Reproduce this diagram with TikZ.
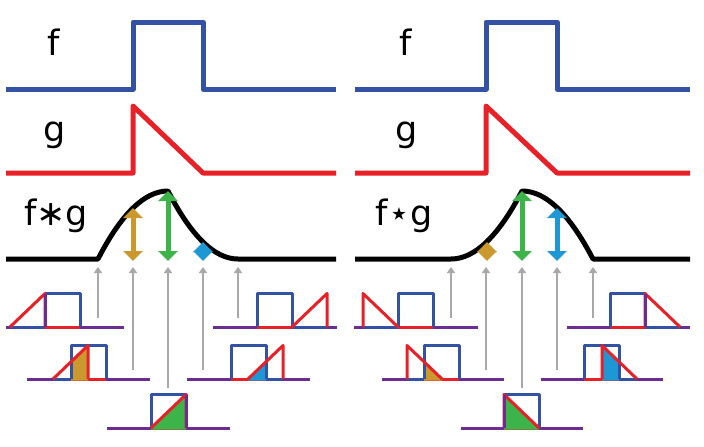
\documentclass[tikz,border=0pt]{standalone}
\usepackage{fontspec}
\setmainfont{DejaVu Sans}
\usetikzlibrary{arrows.meta}
\definecolor{fblue}{RGB}{52,82,164}
\definecolor{gred}{RGB}{232,32,40}
\definecolor{cpurple}{RGB}{108,44,145}
\definecolor{cgold}{RGB}{203,152,46}
\definecolor{cgreen}{RGB}{60,180,74}
\definecolor{ccyan}{RGB}{30,152,212}
\definecolor{cgray}{RGB}{168,168,168}
\tikzset{
  mainline/.style={line width=5pt,line join=round},
  sm/.style={line width=3pt,line join=round},
  grayarrow/.style={line width=2.6pt,cgray,-{Triangle[width=8pt,length=6pt]}},
  valarrow/.style={line width=5pt,{Triangle[width=19pt,length=10pt]}-{Triangle[width=19pt,length=10pt]}},
  lbl/.style={font=\fontsize{35}{40}\selectfont,anchor=base,inner sep=0pt}
}
% #1 baseline y, #2 box left, #3 ramp left, #4 line left, #5 line right, #6 c/r, #7 fill option
\newcommand{\smalldiag}[7]{%
  \pgfmathsetmacro{\bR}{#2+35}%
  \pgfmathsetmacro{\rR}{#3+35}%
  \pgfmathsetmacro{\yT}{#1-33.5}%
  \pgfmathsetmacro{\yB}{#1+1.6}%
  \draw[sm,cpurple] (#4,#1) -- (#5,#1);
  \draw[sm,fblue] (#3,#1) -- (\rR,#1);
  \draw[sm,gred] (#2,#1) -- (\bR,#1);
  \begin{scope}
    \clip (#2,\yB) rectangle (\bR,\yT);
    \ifx c#6
      \path[#7] (#3,\yB) -- (#3,#1) -- (\rR,\yT) -- (\rR,\yB) -- cycle;
    \else
      \path[#7] (#3,\yB) -- (#3,\yT) -- (\rR,#1) -- (\rR,\yB) -- cycle;
    \fi
  \end{scope}
  \draw[sm,fblue] (#2,#1) -- (#2,\yT) -- (\bR,\yT) -- (\bR,#1);
  \ifx c#6
    \draw[sm,gred] (#3,#1) -- (\rR,\yT) -- (\rR,#1);
  \else
    \draw[sm,gred] (#3,#1) -- (#3,\yT) -- (\rR,#1);
  \fi
}
\begin{document}
\begin{tikzpicture}[x=1pt,y=-1pt]
\useasboundingbox[fill=white] (0,0) rectangle (704,447);

% ---------- left panel: convolution ----------
\node[lbl] (lf) at (54,55) {f};
\node[lbl] (lg) at (55,141) {g};
\node[lbl] (lfg) at (56,225) {f∗g};
\draw[mainline,fblue] (6,89) -- (133,89) -- (133,22) -- (203,22) -- (203,89) -- (336,89);
\draw[mainline,gred] (6,173) -- (133,173) -- (133,106) -- (203,173) -- (336,173);
\draw[mainline,black] (6,259) -- (98,259)
   .. controls (121.33,213.67) and (144.67,191) .. (168,191)
   .. controls (191.33,236.33) and (214.67,259) .. (238,259) -- (336,259);

\smalldiag{327}{45}{10}{6}{124}{c}{fill=none}
\smalldiag{379}{71}{53}{27}{150}{c}{fill=cgold}
\smalldiag{428}{151}{151}{107}{230}{c}{fill=cgreen}
\smalldiag{379}{231}{248}{187}{310}{c}{fill=ccyan}
\smalldiag{327}{257}{292}{213}{337}{c}{fill=none}
\draw[sm,cpurple] (45,327) -- (45,293.5);
\draw[sm,cpurple] (186,428) -- (186,394.5);

\coordinate (la1s) at (98,318);  \coordinate (la1e) at (98,267);
\coordinate (la2s) at (133,370); \coordinate (la2e) at (133,267);
\coordinate (la3s) at (168,388); \coordinate (la3e) at (168,267);
\coordinate (la4s) at (203,370); \coordinate (la4e) at (203,267);
\coordinate (la5s) at (238,318); \coordinate (la5e) at (238,267);
\foreach \i in {1,...,5} \draw[grayarrow] (la\i s) -- (la\i e);

\coordinate (lv1t) at (133,208); \coordinate (lv1b) at (133,261);
\coordinate (lv2t) at (168,191); \coordinate (lv2b) at (168,261);
\coordinate (lv3t) at (203,242); \coordinate (lv3b) at (203,261);
\draw[valarrow,cgold] (lv1t) -- (lv1b);
\draw[valarrow,cgreen] (lv2t) -- (lv2b);
\draw[valarrow,ccyan] (lv3t) -- (lv3b);

% ---------- right panel: cross-correlation ----------
\node[lbl] (rf) at (406,55) {f};
\node[lbl] (rg) at (407,141) {g};
\node[lbl] (rfg) at (404,225) {f⋆g};
\draw[mainline,fblue] (355,89) -- (486,89) -- (486,22) -- (557,22) -- (557,89) -- (690,89);
\draw[mainline,gred] (355,173) -- (486,173) -- (486,106) -- (557,173) -- (690,173);
\draw[mainline,black] (355,259) -- (451,259)
   .. controls (474.67,259) and (498.33,236.33) .. (522,191)
   .. controls (545.67,191) and (569.33,213.67) .. (593,259) -- (690,259);

\smalldiag{327}{398}{363}{354}{478}{r}{fill=none}
\smalldiag{379}{424}{407}{382}{504}{r}{fill=cgold}
\smalldiag{428}{504}{504}{461}{583}{r}{fill=cgreen}
\smalldiag{379}{584}{602}{541}{663}{r}{fill=ccyan}
\smalldiag{327}{610}{645}{567}{690}{r}{fill=none}
\draw[sm,cpurple] (504,428) -- (504,394.5);
\draw[sm,cpurple] (645,327) -- (645,293.5);

\coordinate (ra1s) at (451,318); \coordinate (ra1e) at (451,267);
\coordinate (ra2s) at (486,370); \coordinate (ra2e) at (486,267);
\coordinate (ra3s) at (522,388); \coordinate (ra3e) at (522,267);
\coordinate (ra4s) at (557,370); \coordinate (ra4e) at (557,267);
\coordinate (ra5s) at (593,318); \coordinate (ra5e) at (593,267);
\foreach \i in {1,...,5} \draw[grayarrow] (ra\i s) -- (ra\i e);

\coordinate (rv1t) at (487,242); \coordinate (rv1b) at (487,261);
\coordinate (rv2t) at (522,191); \coordinate (rv2b) at (522,261);
\coordinate (rv3t) at (557,208); \coordinate (rv3b) at (557,261);
\draw[valarrow,cgold] (rv1t) -- (rv1b);
\draw[valarrow,cgreen] (rv2t) -- (rv2b);
\draw[valarrow,ccyan] (rv3t) -- (rv3b);
\end{tikzpicture}
\end{document}
